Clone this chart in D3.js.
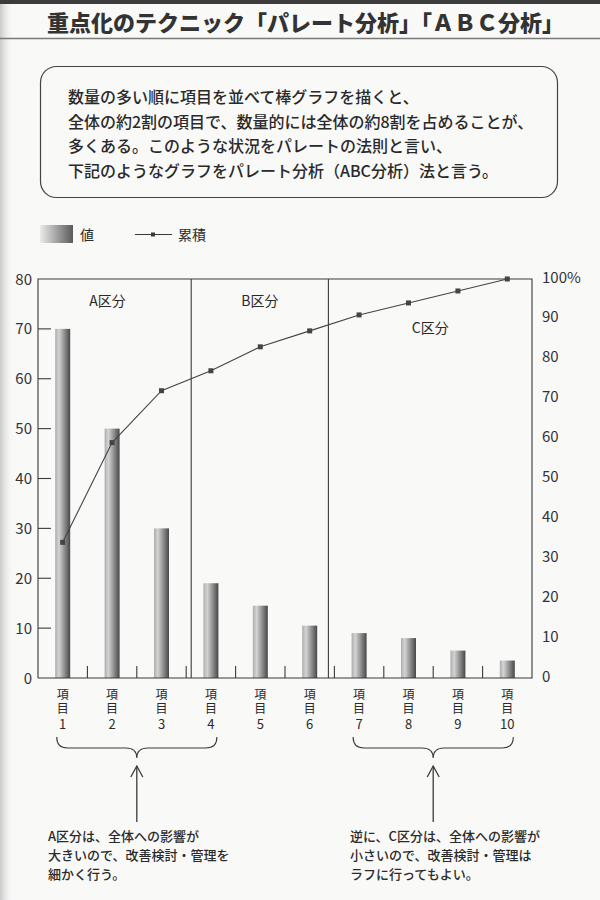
<!DOCTYPE html>
<html>
<head>
<meta charset="utf-8">
<script src="https://cdn.jsdelivr.net/npm/d3@7"></script>
<style>
  body { margin: 0; background: #f9f9f8; }
  svg { display: block; }
  text { font-family: "Noto Sans CJK JP", "Noto Sans", sans-serif; fill: #2a2a2a; }
</style>
</head>
<body>
<svg id="chart" width="600" height="900"></svg>
<script>
// Data
var items = ["1", "2", "3", "4", "5", "6", "7", "8", "9", "10"];
var values = [70, 50, 30, 19, 14.5, 10.5, 9, 8, 5.5, 3.5];
var cumulative = [34, 59, 72, 77, 83, 87, 91, 94, 97, 100];
var leftTicks = [0, 10, 20, 30, 40, 50, 60, 70, 80];
var rightTicks = [0, 10, 20, 30, 40, 50, 60, 70, 80, 90, 100];
var groups = [
    { name: "A区分", from: 0, to: 3 },
    { name: "B区分", from: 3, to: 6 },
    { name: "C区分", from: 6, to: 10 }
];
var introLines = [
    "数量の多い順に項目を並べて棒グラフを描くと、",
    "全体の約2割の項目で、数量的には全体の約8割を占めることが、",
    "多くある。このような状況をパレートの法則と言い、",
    "下記のようなグラフをパレート分析（ABC分析）法と言う。"
];
var noteA = ["A区分は、全体への影響が", "大きいので、改善検討・管理を", "細かく行う。"];
var noteC = ["逆に、C区分は、全体への影響が", "小さいので、改善検討・管理は", "ラフに行ってもよい。"];

var svg = d3.select("#chart");
var pL = 38, pR = 532, pT = 279, pB = 678;
var ink = "#3a3a3a";

var defs = svg.append("defs");
var barGrad = defs.append("linearGradient").attr("id", "barGrad");
barGrad.append("stop").attr("offset", "0%").attr("stop-color", "#adadad");
barGrad.append("stop").attr("offset", "25%").attr("stop-color", "#d4d4d4");
barGrad.append("stop").attr("offset", "100%").attr("stop-color", "#474747");
var legGrad = defs.append("linearGradient").attr("id", "legGrad");
legGrad.append("stop").attr("offset", "0%").attr("stop-color", "#ececec");
legGrad.append("stop").attr("offset", "100%").attr("stop-color", "#5a5a5a");
var shade = defs.append("linearGradient").attr("id", "shade");
shade.append("stop").attr("offset", "0%").attr("stop-color", "#c8c8c8");
shade.append("stop").attr("offset", "100%").attr("stop-color", "#f9f9f8").attr("stop-opacity", 0);

// page decoration (scan edge, header band, rule)
svg.append("rect").attr("x", 0).attr("y", 0).attr("width", 14).attr("height", 900).attr("fill", "url(#shade)");
svg.append("rect").attr("x", 0).attr("y", 0).attr("width", 600).attr("height", 4).attr("fill", "#3c3c3c");
svg.append("line").attr("x1", 0).attr("x2", 600).attr("y1", 38.5).attr("y2", 38.5)
    .attr("stroke", "#7a7a7a").attr("stroke-width", 1.5);

svg.append("text")
    .attr("x", 47).attr("y", 31)
    .attr("font-size", "22px").attr("font-weight", 900)
    .style("fill", "#333")
    .text("重点化のテクニック「パレート分析」「ＡＢＣ分析」");

// intro box
svg.append("rect")
    .attr("x", 40.5).attr("y", 66.5).attr("width", 517).attr("height", 131)
    .attr("rx", 16).attr("fill", "none").attr("stroke", "#444").attr("stroke-width", 1.2);

svg.append("g").selectAll("text")
    .data(introLines)
    .enter().append("text")
    .attr("x", 68)
    .attr("y", function (d, i) { return 103 + i * 24.5; })
    .attr("font-size", "16px")
    .attr("font-weight", 500)
    .text(function (d) { return d; });

// legend
svg.append("rect").attr("x", 40).attr("y", 225).attr("width", 33).attr("height", 18).attr("fill", "url(#legGrad)");
svg.append("text").attr("x", 80).attr("y", 240).attr("font-size", "14px").text("値");
svg.append("line").attr("x1", 135).attr("x2", 172).attr("y1", 234.5).attr("y2", 234.5)
    .attr("stroke", ink).attr("stroke-width", 1.2);
svg.append("rect").attr("x", 151).attr("y", 232.5).attr("width", 4).attr("height", 4).attr("fill", ink);
svg.append("text").attr("x", 178).attr("y", 240).attr("font-size", "14px").text("累積");

// scales
var x = d3.scaleBand().domain(items).range([pL, pR]);
var y = d3.scaleLinear().domain([0, 80]).range([pB, pT]);
var yPct = d3.scaleLinear().domain([0, 100]).range([pB, pT]);
var barW = 15;

// bars
svg.append("g").selectAll("rect")
    .data(values)
    .enter().append("rect")
    .attr("x", function (d, i) { return x(items[i]) + x.bandwidth() / 2 - barW / 2; })
    .attr("y", function (d) { return y(d); })
    .attr("width", barW)
    .attr("height", function (d) { return pB - y(d); })
    .attr("fill", "url(#barGrad)");

// frame
var frame = svg.append("g").attr("stroke", ink).attr("stroke-width", 1.1).attr("fill", "none");
frame.append("path").attr("d", "M" + pL + "," + pB + "V" + pT + "H" + pR + "V" + pB + "H" + pL);

// group dividers
var nudge = [5, -6];
groups.slice(1).forEach(function (g, i) {
    var gx = x(items[g.from]) + nudge[i];
    frame.append("line").attr("x1", gx).attr("x2", gx).attr("y1", pT).attr("y2", pB);
});

// left axis ticks (inside)
frame.selectAll(".ltick")
    .data(leftTicks.filter(function (d) { return d > 0 && d < 80; }))
    .enter().append("line")
    .attr("x1", pL).attr("x2", pL + 13)
    .attr("y1", function (d) { return y(d); }).attr("y2", function (d) { return y(d); });

// bottom ticks at band boundaries
frame.selectAll(".btick")
    .data(items.slice(1))
    .enter().append("line")
    .attr("x1", function (d) { return x(d); }).attr("x2", function (d) { return x(d); })
    .attr("y1", pB).attr("y2", pB - 12);

// left axis labels
svg.append("g").selectAll("text")
    .data(leftTicks)
    .enter().append("text")
    .attr("x", 32)
    .attr("y", function (d) { return y(d) + 5.5; })
    .attr("text-anchor", "end")
    .attr("font-family", "DejaVu Sans")
    .attr("font-size", "15px")
    .style("fill", "#333")
    .text(function (d) { return d; });

// right axis labels
svg.append("g").selectAll("text")
    .data(rightTicks)
    .enter().append("text")
    .attr("x", 542)
    .attr("y", function (d) { return yPct(d) + 3.5; })
    .attr("font-family", "DejaVu Sans")
    .attr("font-size", "15px")
    .style("fill", "#333")
    .text(function (d) { return d === 100 ? "100%" : d; });

// group labels
var groupLabelY = [306, 306, 333];
var groupLabelDx = [-7, 0, 0];
svg.append("g").selectAll("text")
    .data(groups)
    .enter().append("text")
    .attr("x", function (g, i) {
        var a = i === 0 ? pL : x(items[g.from]) + nudge[i - 1];
        var b = i === groups.length - 1 ? pR : x(items[g.to]) + nudge[i];
        return (a + b) / 2 + groupLabelDx[i];
    })
    .attr("y", function (g, i) { return groupLabelY[i]; })
    .attr("text-anchor", "middle")
    .attr("font-size", "14px")
    .text(function (g) { return g.name; });

// cumulative line
var line = d3.line()
    .x(function (d, i) { return x(items[i]) + x.bandwidth() / 2; })
    .y(function (d) { return yPct(d); });

svg.append("path")
    .datum(cumulative)
    .attr("d", line)
    .attr("fill", "none")
    .attr("stroke", "#444")
    .attr("stroke-width", 1.1);

svg.append("g").selectAll("rect")
    .data(cumulative)
    .enter().append("rect")
    .attr("x", function (d, i) { return x(items[i]) + x.bandwidth() / 2 - 2.5; })
    .attr("y", function (d) { return yPct(d) - 2.5; })
    .attr("width", 5).attr("height", 5)
    .attr("fill", "#444");

// category labels: vertical 項目, number underneath
var cat = svg.append("g").selectAll("g")
    .data(items)
    .enter().append("g")
    .attr("transform", function (d) { return "translate(" + (x(d) + x.bandwidth() / 2) + ",0)"; });
cat.append("text")
    .attr("x", 0).attr("y", 688)
    .style("writing-mode", "vertical-rl")
    .style("text-orientation", "upright")
    .style("letter-spacing", "2px")
    .attr("font-size", "12px")
    .text("項目");
cat.append("text")
    .attr("y", 729)
    .attr("text-anchor", "middle")
    .attr("font-size", "13px")
    .attr("font-family", "Liberation Sans Narrow, Noto Sans CJK JP")
    .text(function (d) { return d; });

// braces and arrows
function brace(x0, x1) {
    var m = (x0 + x1) / 2, t = 737, h = 748, tip = 758, r = 11;
    return "M" + x0 + "," + t + " Q" + x0 + "," + h + " " + (x0 + r) + "," + h +
        " L" + (m - r) + "," + h + " Q" + m + "," + h + " " + m + "," + tip +
        " Q" + m + "," + h + " " + (m + r) + "," + h +
        " L" + (x1 - r) + "," + h + " Q" + x1 + "," + h + " " + x1 + "," + t;
}

var notes = [
    { from: 0, to: 3, lines: noteA, tx: 48 },
    { from: 6, to: 9, lines: noteC, tx: 350 }
];

notes.forEach(function (n) {
    var x0 = x(items[n.from]) + x.bandwidth() / 2 - 6;
    var x1 = x(items[n.to]) + x.bandwidth() / 2 + 6;
    var m = (x0 + x1) / 2;
    svg.append("path").attr("d", brace(x0, x1))
        .attr("fill", "none").attr("stroke", ink).attr("stroke-width", 1.1);
    svg.append("line").attr("x1", m).attr("x2", m).attr("y1", 766).attr("y2", 822)
        .attr("stroke", ink).attr("stroke-width", 1.3);
    svg.append("path").attr("d", "M" + (m - 6) + ",777 L" + m + ",766 L" + (m + 6) + ",777")
        .attr("fill", "none").attr("stroke", ink).attr("stroke-width", 1.3);
    svg.append("g").selectAll("text")
        .data(n.lines)
        .enter().append("text")
        .attr("x", n.tx)
        .attr("y", function (d, i) { return 841 + i * 19; })
        .attr("font-size", "13px")
        .attr("font-weight", 500)
        .text(function (d) { return d; });
});
</script>
</body>
</html>
